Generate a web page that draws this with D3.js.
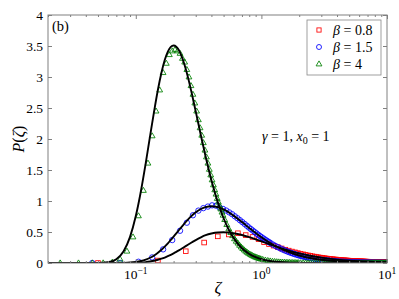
<!DOCTYPE html>
<html><head><meta charset="utf-8">
<script src="https://cdn.jsdelivr.net/npm/d3@7"></script>
<style>
body{margin:0;background:#fff}
svg{display:block}
</style>
</head><body>
<svg id="c" width="399" height="299"></svg>
<script>
// ---- theory curves ----
const curveZeta=[0.02,0.03,0.04,0.05,0.06,0.07,0.08,0.09,0.1,0.11,0.12,0.13,0.14,0.15,0.16,0.17,0.18,0.19,0.2,0.21,0.22,0.24,0.26,0.28,0.3,0.33,0.36,0.4,0.45,0.5,0.55,0.6,0.7,0.8,0.9,1,1.2,1.4,1.7,2,2.5,3,4,5,6,8,10];
const curveB08=[0,0,0,0,0,0.0001,0.0006,0.0017,0.004,0.0085,0.015,0.025,0.037,0.052,0.069,0.088,0.11,0.132,0.155,0.179,0.203,0.25,0.294,0.334,0.37,0.414,0.448,0.475,0.492,0.495,0.49,0.48,0.452,0.418,0.383,0.35,0.292,0.245,0.192,0.155,0.113,0.086,0.055,0.038,0.028,0.017,0.011];
const curveB15=[0,0,0,0,0.0001,0.0005,0.0023,0.0069,0.0162,0.0317,0.0544,0.0846,0.1216,0.1649,0.2127,0.264,0.317,0.373,0.425,0.477,0.528,0.62,0.7,0.765,0.817,0.871,0.902,0.915,0.901,0.864,0.816,0.764,0.66,0.565,0.483,0.415,0.311,0.238,0.166,0.121,0.0766,0.0519,0.0275,0.0165,0.0108,0.0055,0.0032];
const curveB4=[0,0,0,0.001,0.012,0.062,0.19,0.422,0.757,1.166,1.61,2.05,2.449,2.794,3.068,3.273,3.41,3.487,3.509,3.489,3.434,3.245,2.998,2.722,2.446,2.056,1.714,1.336,0.979,0.722,0.537,0.405,0.238,0.146,0.093,0.061,0.029,0.015,0.0065,0.0032,0.0011,0.0005,0.0001,0,0,0,0];

// ---- simulation markers ----
const zetaB08=[0.05,0.15,0.25,0.35,0.45,0.55,0.65,0.75,0.85,0.95,1.05,1.15,1.25,1.35,1.45,1.55,1.65,1.75,1.85,1.95,2.05,2.15,2.25,2.35,2.45,2.55,2.65,2.75,2.85,2.95,3.05,3.15,3.25,3.35,3.45,3.55,3.65,3.75,3.85,3.95,4.05,4.15,4.25,4.35,4.45,4.55,4.65,4.75,4.85,4.95,5.05,5.15,5.25,5.35,5.45,5.55,5.65,5.75,5.85,5.95,6.05,6.15,6.25,6.35,6.45,6.55,6.65,6.75,6.85,6.95,7.05,7.15,7.25,7.35,7.45,7.55,7.65,7.75,7.85,7.95,8.05,8.15,8.25,8.35,8.45,8.55,8.65,8.75,8.85,8.95,9.05,9.15,9.25,9.35,9.45,9.55,9.65,9.75,9.85,9.95];
const pB08=[0,0.04,0.19,0.33,0.43,0.46,0.48,0.45,0.42,0.385,0.335,0.305,0.28,0.257,0.235,0.215,0.2,0.185,0.172,0.16,0.15,0.14,0.131,0.123,0.116,0.109,0.103,0.097,0.092,0.087,0.083,0.079,0.075,0.071,0.068,0.065,0.062,0.059,0.057,0.055,0.053,0.051,0.049,0.047,0.045,0.044,0.042,0.041,0.04,0.038,0.037,0.036,0.035,0.034,0.033,0.032,0.031,0.03,0.029,0.028,0.027,0.027,0.026,0.025,0.025,0.024,0.023,0.023,0.022,0.022,0.021,0.021,0.02,0.02,0.019,0.019,0.018,0.018,0.017,0.017,0.017,0.016,0.016,0.016,0.015,0.015,0.015,0.014,0.014,0.014,0.013,0.013,0.013,0.012,0.012,0.012,0.012,0.011,0.011,0.011];

const zetaB15=[0.045,0.075,0.105,0.135,0.165,0.195,0.225,0.255,0.285,0.315,0.345,0.375,0.405,0.435,0.465,0.495,0.525,0.555,0.585,0.615,0.645,0.675,0.705,0.735,0.765,0.795,0.825,0.855,0.885,0.915,0.945,0.975,1.005,1.035,1.065,1.095,1.125,1.155,1.185,1.24,1.3,1.36,1.42,1.48,1.54,1.6,1.66,1.72,1.78,1.84,1.9,1.96,2.02,2.08,2.14,2.2,2.26,2.32,2.38,2.48,2.6,2.72,2.84,2.96,3.08,3.2,3.32,3.44,3.56,3.68,3.8,3.92,4.1,4.3,4.5,4.7,4.9,5.1,5.3,5.5,5.7,5.9,6.1,6.3,6.5,6.7,6.9,7.1,7.3,7.5,7.7,7.9,8.1,8.3,8.5,8.7,8.9,9.1,9.3,9.5,9.7,9.9];
const pB15=[0,0.001,0.02,0.09,0.22,0.37,0.52,0.65,0.77,0.845,0.885,0.91,0.93,0.925,0.894,0.872,0.846,0.816,0.787,0.753,0.722,0.69,0.66,0.63,0.601,0.573,0.547,0.523,0.499,0.476,0.455,0.434,0.415,0.397,0.38,0.364,0.348,0.334,0.32,0.296,0.273,0.2525,0.234,0.217,0.2015,0.1876,0.175,0.1636,0.153,0.1435,0.1347,0.1266,0.1192,0.1124,0.1061,0.1003,0.0949,0.0898,0.0852,0.0782,0.0708,0.0643,0.0586,0.0536,0.0492,0.0452,0.0417,0.0386,0.0358,0.0332,0.0309,0.0288,0.026,0.0235,0.0213,0.0193,0.0176,0.016,0.0147,0.0135,0.0125,0.0115,0.0106,0.0098,0.0091,0.0085,0.0079,0.0074,0.0069,0.0064,0.006,0.0057,0.0053,0.005,0.0047,0.0045,0.0042,0.004,0.0038,0.0036,0.0034,0.0032];

const zetaB4=[0.025,0.035,0.045,0.055,0.065,0.075,0.085,0.095,0.105,0.115,0.125,0.135,0.145,0.155,0.165,0.175,0.185,0.195,0.205,0.215,0.225,0.235,0.245,0.255,0.265,0.275,0.285,0.295,0.305,0.315,0.325,0.335,0.345,0.355,0.365,0.375,0.385,0.395,0.405,0.415,0.425,0.435,0.445,0.455,0.465,0.475,0.485,0.495,0.51,0.53,0.55,0.57,0.59,0.61,0.63,0.65,0.67,0.69,0.71,0.73,0.75,0.77,0.79,0.81,0.83,0.85,0.87,0.89,0.91,0.93,0.95,0.97,0.99,1.025,1.075,1.125,1.175,1.225,1.275,1.325,1.375,1.425,1.475,1.525,1.575,1.625,1.675,1.725,1.775,1.825,1.875,1.925,1.975,2.05,2.15,2.25,2.35,2.45,2.55,2.65,2.75,2.85,2.95,3.05,3.15,3.25,3.35,3.45,3.55,3.65,3.75,3.85,3.95,4.1,4.3,4.5,4.7,4.9,5.1,5.3,5.5,5.7,5.9,6.1,6.3,6.5,6.7,6.9,7.1,7.3,7.5,7.7,7.9,8.1,8.3,8.5,8.7,8.9,9.1,9.3,9.5,9.7,9.9];
const pB4=[0,0,0,0.001,0.012,0.062,0.19,0.42,0.76,1.17,1.61,2.05,2.45,2.79,3.07,3.22,3.36,3.42,3.44,3.42,3.38,3.3,3.24,3.12,3.0,2.86,2.72,2.58,2.45,2.31,2.18,2.06,1.94,1.82,1.71,1.61,1.51,1.42,1.34,1.26,1.18,1.11,1.04,0.98,0.92,0.87,0.82,0.77,0.7,0.62,0.55,0.49,0.44,0.39,0.35,0.32,0.285,0.257,0.232,0.21,0.19,0.172,0.156,0.142,0.13,0.118,0.108,0.099,0.091,0.084,0.077,0.071,0.065,0.057,0.047,0.039,0.032,0.027,0.023,0.0195,0.0166,0.0143,0.0123,0.0106,0.0092,0.008,0.0069,0.0061,0.0053,0.0047,0.0041,0.0036,0.0032,0.0028,0.0025,0.0022,0.0019,0.0017,0.0015,0.0013,0.0012,0.0011,0.001,0.0009,0.0008,0.0007,0.0006,0.0006,0.0005,0.0005,0.0004,0.0004,0.0004,0.0003,0.0003,0.0003,0.0003,0.0003,0.0002,0.0002,0.0002,0.0002,0.0002,0.0001,0.0001,0.0001,0.0001,0.0001,0.0001,0.0001,0.0001,0.0001,0.0001,0,0,0,0,0,0,0,0,0,0];

// ---- axis ticks ----
const xMajor=[0.1,1,10];
const xMajorExp=["−1","0","1"];
const xMinor=[0.02,0.03,0.04,0.05,0.06,0.07,0.08,0.09,0.2,0.3,0.4,0.5,0.6,0.7,0.8,0.9,2,3,4,5,6,7,8,9];
const yTicks=[0,0.5,1,1.5,2,2.5,3,3.5,4];
const yTickLabels=["0","0.5","1","1.5","2","2.5","3","3.5","4"];
const legendBeta=["0.8","1.5","4"];

const FONT="Liberation Serif";
const svg=d3.select("#c");
const L=48,R=387,T=15,B=263;
const x=d3.scaleLog().domain([0.02,10]).range([L,R]);
const y=d3.scaleLinear().domain([0,4]).range([B,T]);
const spine="#808080";

svg.append("defs").append("clipPath").attr("id","clip")
  .append("rect").attr("x",L).attr("y",T).attr("width",R-L).attr("height",B-T);

const gPlot=svg.append("g").attr("clip-path","url(#clip)");

const tri="M0,-3.1L2.9,1.9L-2.9,1.9Z";
function drawMarkers(zs,ps,kind,color){
  const g=gPlot.append("g").attr("fill","none").attr("stroke",color).attr("stroke-width",0.85);
  zs.forEach((z,i)=>{
    const cx=x(z), cy=y(ps[i]);
    if(kind==="square") g.append("rect").attr("x",cx-2.3).attr("y",cy-2.3).attr("width",4.6).attr("height",4.6);
    else if(kind==="circle") g.append("circle").attr("cx",cx).attr("cy",cy).attr("r",2.7);
    else g.append("path").attr("d",tri).attr("transform",`translate(${cx},${cy})`);
  });
}
drawMarkers(zetaB08,pB08,"square","#ff0000");
drawMarkers(zetaB15,pB15,"circle","#0000ff");
drawMarkers(zetaB4,pB4,"tri","#008000");

const line=d3.line().x(d=>x(d[0])).y(d=>y(d[1])).curve(d3.curveMonotoneX);
[curveB08,curveB15,curveB4].forEach(c=>{
  gPlot.append("path").attr("d",line(curveZeta.map((z,i)=>[z,c[i]])))
    .attr("fill","none").attr("stroke","#000").attr("stroke-width",1.9);
});

// frame
svg.append("rect").attr("x",L).attr("y",T).attr("width",R-L).attr("height",B-T)
  .attr("fill","none").attr("stroke",spine).attr("stroke-width",1);

function styleAxis(g){g.select(".domain").remove();g.selectAll("line").attr("stroke",spine);g.selectAll("text").remove();}
svg.append("g").attr("transform",`translate(0,${B})`).call(d3.axisBottom(x).tickValues(xMajor).tickSize(-4)).call(styleAxis);
svg.append("g").attr("transform",`translate(0,${B})`).call(d3.axisBottom(x).tickValues(xMinor).tickSize(-2)).call(styleAxis);
svg.append("g").attr("transform",`translate(0,${T})`).call(d3.axisTop(x).tickValues(xMajor).tickSize(-4)).call(styleAxis);
svg.append("g").attr("transform",`translate(0,${T})`).call(d3.axisTop(x).tickValues(xMinor).tickSize(-2)).call(styleAxis);
svg.append("g").attr("transform",`translate(${L},0)`).call(d3.axisLeft(y).tickValues(yTicks).tickSize(-4)).call(styleAxis);
svg.append("g").attr("transform",`translate(${R},0)`).call(d3.axisRight(y).tickValues(yTicks).tickSize(-4)).call(styleAxis);

function txt(sel){return sel.append("text").style("font-family",FONT).attr("fill","#000");}

// tick labels
yTicks.forEach((v,i)=>{
  txt(svg).attr("x",L-5).attr("y",y(v)+4.5).attr("text-anchor","end")
    .attr("font-size",13.5).text(yTickLabels[i]);
});
xMajor.forEach((v,i)=>{
  const t=txt(svg).attr("x",x(v)).attr("y",B+16).attr("text-anchor","middle").attr("font-size",13.5);
  t.append("tspan").text("10");
  t.append("tspan").attr("dy",-5.5).attr("font-size",9.5).text(xMajorExp[i]);
});

// axis labels
txt(svg).attr("x",218).attr("y",293).attr("text-anchor","middle").attr("font-size",17).attr("font-style","italic").text("ζ");
const yl=txt(svg).attr("transform","translate(24,139) rotate(-90)").attr("text-anchor","middle").attr("font-size",16);
yl.append("tspan").attr("font-style","italic").text("P");
yl.append("tspan").text("(");
yl.append("tspan").attr("font-style","italic").text("ζ");
yl.append("tspan").text(")");

// panel label & annotation
txt(svg).attr("x",52).attr("y",31).attr("font-size",14.5).text("(b)");
const ann=txt(svg).attr("x",262).attr("y",141).attr("font-size",14);
ann.append("tspan").attr("font-style","italic").text("γ");
ann.append("tspan").text(" = 1, ");
ann.append("tspan").attr("font-style","italic").text("x");
ann.append("tspan").attr("font-size",10).attr("dy",3).text("0");
ann.append("tspan").attr("dy",-3).text(" = 1");

// legend
svg.append("rect").attr("x",307).attr("y",20).attr("width",74).attr("height",55)
  .attr("fill","#fff").attr("stroke","#888").attr("stroke-width",0.8);
const legY=[30,47,64];
const lg=svg.append("g").attr("fill","none").attr("stroke-width",0.85);
lg.append("rect").attr("x",319-2.1).attr("y",legY[0]-2.1).attr("width",4.2).attr("height",4.2).attr("stroke","#ff0000");
lg.append("circle").attr("cx",319).attr("cy",legY[1]).attr("r",2.5).attr("stroke","#0000ff");
lg.append("path").attr("d",tri).attr("transform",`translate(319,${legY[2]})`).attr("stroke","#008000");
legendBeta.forEach((b,i)=>{
  const t=txt(svg).attr("x",333).attr("y",legY[i]+5).attr("font-size",14);
  t.append("tspan").attr("font-style","italic").text("β");
  t.append("tspan").text(" = "+b);
});
</script>
</body></html>
